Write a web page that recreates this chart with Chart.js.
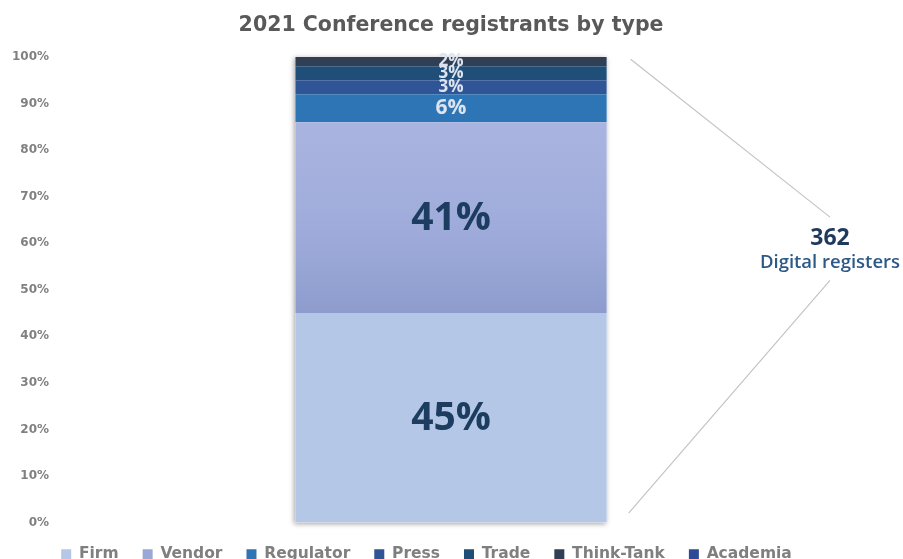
<!DOCTYPE html>
<html>
<head>
<meta charset="utf-8">
<script src="https://cdn.jsdelivr.net/npm/chart.js@4.4.0/dist/chart.umd.min.js"></script>
<style>
html,body{margin:0;padding:0;background:#fff;overflow:hidden;}
#wrap{width:903px;height:572px;position:relative;}
</style>
</head>
<body>
<div id="wrap"><canvas id="c"></canvas></div>
<script>
// ---- data ----
const categories = ['2021'];
const seriesNames = ['Firm', 'Vendor', 'Regulator', 'Press', 'Trade', 'Think-Tank', 'Academia'];
const firm = [45];
const vendor = [41];
const regulator = [6];
const press = [3];
const trade = [3];
const thinkTank = [2];
const academia = [0];
const yTickValues = [0, 10, 20, 30, 40, 50, 60, 70, 80, 90, 100];
const totalRegisters = '362';
const totalLabel = 'Digital registers';
const chartTitle = '2021 Conference registrants by type';

// ---- styles ----
const seriesColors = ['#b4c7e7', '#9aa8d8', '#2e75b6', '#2f5597', '#1f4e79', '#313f55', '#2c4a98'];

function vendorFill(context) {
  const chart = context.chart;
  const y = chart.scales && chart.scales.y;
  if (!chart.chartArea || !y) return seriesColors[1];
  const top = y.getPixelForValue(firm[0] + vendor[0]);
  const bot = y.getPixelForValue(firm[0]);
  const g = chart.ctx.createLinearGradient(0, top, 0, bot);
  g.addColorStop(0, '#aab4e0');
  g.addColorStop(0.6, '#9eabda');
  g.addColorStop(1, '#8d9ccd');
  return g;
}

const seriesData = [firm, vendor, regulator, press, trade, thinkTank, academia];
const datasets = seriesNames.map((name, i) => ({
  label: name,
  data: seriesData[i],
  backgroundColor: i === 1 ? vendorFill : seriesColors[i],
  borderWidth: 0,
  categoryPercentage: 1,
  barPercentage: 0.393
}));

const shadowPlugin = {
  id: 'barShadow',
  beforeDatasetsDraw(chart) {
    const el = chart.getDatasetMeta(0).data[0];
    if (!el) return;
    const y = chart.scales.y;
    const total = seriesData.reduce((s, a) => s + a[0], 0);
    const top = y.getPixelForValue(total);
    const base = y.getPixelForValue(0);
    const half = el.width / 2;
    const ctx = chart.ctx;
    ctx.save();
    ctx.shadowColor = 'rgba(0,0,0,0.35)';
    ctx.shadowBlur = 5;
    ctx.shadowOffsetX = -1;
    ctx.shadowOffsetY = 1;
    ctx.fillStyle = '#ffffff';
    ctx.fillRect(el.x - half, top, el.width, base - top);
    ctx.restore();
  }
};

const labelPlugin = {
  id: 'segLabels',
  afterDatasetsDraw(chart) {
    const ctx = chart.ctx;
    ctx.save();
    ctx.textAlign = 'center';
    ctx.textBaseline = 'middle';
    chart.data.datasets.forEach((ds, i) => {
      const meta = chart.getDatasetMeta(i);
      meta.data.forEach((el, j) => {
        const v = ds.data[j];
        if (!v) return;
        const yc = (el.y + el.base) / 2;
        let size, color;
        if (v >= 20) { size = 39; color = '#1c3d60'; }
        else if (v >= 5) { size = 21; color = '#dde4f0'; }
        else { size = 17; color = '#dde4f0'; }
        ctx.font = 'bold ' + size + 'px "Open Sans", sans-serif';
        ctx.fillStyle = color;
        ctx.fillText(v + '%', el.x, yc + (v >= 20 ? 1 : 0));
      });
    });
    ctx.restore();
  }
};

const titleAndBracketPlugin = {
  id: 'bracket',
  afterDraw(chart) {
    const el = chart.getDatasetMeta(0).data[0];
    if (!el) return;
    const y = chart.scales.y;
    const ctx = chart.ctx;
    ctx.save();
    // title, centred over the bar
    ctx.textAlign = 'center';
    ctx.textBaseline = 'middle';
    ctx.fillStyle = '#595959';
    ctx.font = 'bold 20.5px "DejaVu Sans", sans-serif';
    ctx.fillText(chartTitle, el.x, 26);
    // bracket lines
    const x0 = el.x + el.width / 2 + 24;
    const xc = chart.chartArea.right - 17;
    ctx.strokeStyle = '#c4c4c4';
    ctx.lineWidth = 1.2;
    ctx.beginPath();
    ctx.moveTo(x0, y.getPixelForValue(99.5));
    ctx.lineTo(xc, y.getPixelForValue(65.6));
    ctx.moveTo(xc, y.getPixelForValue(52));
    ctx.lineTo(x0 - 2, y.getPixelForValue(2));
    ctx.stroke();
    ctx.fillStyle = '#1f3a5c';
    ctx.font = 'bold 23px "Open Sans", sans-serif';
    ctx.fillText(totalRegisters, xc, y.getPixelForValue(61.0));
    ctx.fillStyle = '#2d5987';
    ctx.font = '600 18.5px "Open Sans", sans-serif';
    ctx.fillText(totalLabel, xc, y.getPixelForValue(55.8));
    ctx.restore();
  }
};

new Chart(document.getElementById('c'), {
  type: 'bar',
  data: { labels: categories, datasets: datasets },
  plugins: [shadowPlugin, labelPlugin, titleAndBracketPlugin],
  options: {
    responsive: true,
    maintainAspectRatio: false,
    animation: false,
    layout: { padding: { left: 6, right: 56, top: 57, bottom: 0 } },
    plugins: {
      title: { display: false },
      legend: {
        position: 'bottom',
        labels: {
          color: '#7f7f7f',
          font: { family: 'DejaVu Sans', size: 15.5, weight: 'bold' },
          boxWidth: 10,
          boxHeight: 10,
          padding: 24,
          generateLabels(chart) {
            const items = Chart.defaults.plugins.legend.labels.generateLabels(chart);
            items.forEach((it, i) => { it.fillStyle = seriesColors[i]; it.strokeStyle = seriesColors[i]; it.lineWidth = 0; });
            return items;
          }
        }
      },
      tooltip: { enabled: false }
    },
    scales: {
      x: { stacked: true, display: false },
      y: {
        stacked: true,
        min: 0,
        max: 100,
        afterBuildTicks(axis) { axis.ticks = yTickValues.map(v => ({ value: v })); },
        ticks: {
          callback: v => v + '%',
          color: '#808080',
          font: { family: 'DejaVu Sans', size: 12, weight: 'bold' },
          padding: 6
        },
        grid: { display: false, drawTicks: false },
        border: { display: false }
      }
    }
  }
});
</script>
</body>
</html>
